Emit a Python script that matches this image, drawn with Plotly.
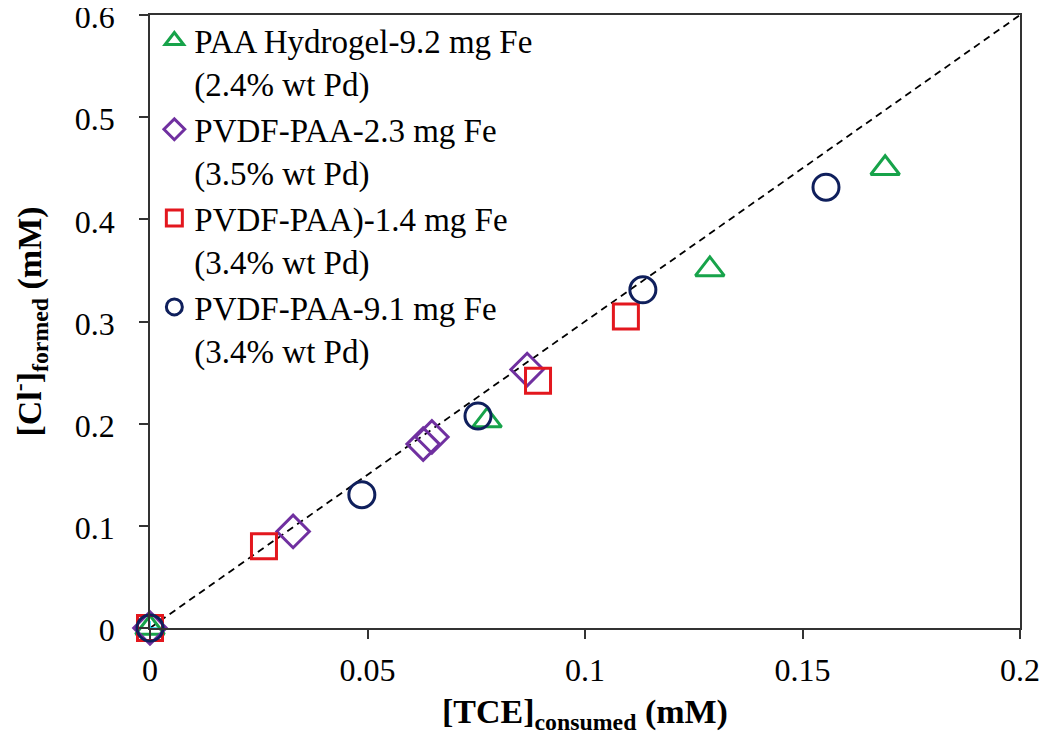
import plotly.graph_objects as go

# PAA Hydrogel-9.2 mg Fe (2.4% wt Pd)
hydrogel_x = [0, 0.0775, 0.1287, 0.169]
hydrogel_y = [0, 0.203, 0.351, 0.450]

# PVDF-PAA-2.3 mg Fe (3.5% wt Pd)
pvdf23_x = [0, 0.0329, 0.0628, 0.0648, 0.0867]
pvdf23_y = [0, 0.0945, 0.180, 0.187, 0.253]

# PVDF-PAA)-1.4 mg Fe (3.4% wt Pd)
pvdf14_x = [0, 0.0262, 0.0892, 0.1094]
pvdf14_y = [0, 0.080, 0.242, 0.305]

# PVDF-PAA-9.1 mg Fe (3.4% wt Pd)
pvdf91_x = [0, 0.0487, 0.0754, 0.1133, 0.1554]
pvdf91_y = [0, 0.1305, 0.2075, 0.331, 0.4315]

# 1:3 stoichiometric line
line_x = [0, 0.2]
line_y = [0, 0.6]

x_ticks = [0, 0.05, 0.1, 0.15, 0.2]
y_ticks = [0, 0.1, 0.2, 0.3, 0.4, 0.5, 0.6]

FONT = 'Times New Roman, Liberation Serif, serif'

series = [
    ('PAA Hydrogel-9.2 mg Fe<br>(2.4% wt Pd)', hydrogel_x, hydrogel_y, 'triangle-up-open', '#17a34a', 25),
    ('PVDF-PAA-2.3 mg Fe<br>(3.5% wt Pd)', pvdf23_x, pvdf23_y, 'diamond-open', '#7030a0', 25),
    ('PVDF-PAA)-1.4 mg Fe<br>(3.4% wt Pd)', pvdf14_x, pvdf14_y, 'square-open', '#e3171e', 25),
    ('PVDF-PAA-9.1 mg Fe<br>(3.4% wt Pd)', pvdf91_x, pvdf91_y, 'circle-open', '#0f1f5c', 26),
]

fig = go.Figure()

fig.add_trace(go.Scatter(x=line_x, y=line_y, mode='lines',
                         line=dict(color='black', width=1.8, dash='7px,5px'),
                         showlegend=False, hoverinfo='skip'))

for name, xs, ys, sym, col, size in series:
    fig.add_trace(go.Scatter(x=xs, y=ys, mode='markers', name=name, cliponaxis=False,
                             marker=dict(symbol=sym, size=size, color=col,
                                         line=dict(width=3, color=col))))

# small cross at the origin
fig.add_trace(go.Scatter(x=[0], y=[0], mode='markers', showlegend=False, cliponaxis=False,
                         marker=dict(symbol='cross-thin-open', size=10,
                                     line=dict(width=1.5, color='black'))))

axis_style = dict(showgrid=False, zeroline=False, showline=True,
                  linecolor='#333333', linewidth=1.5, mirror=True,
                  ticks='outside', ticklen=9, tickwidth=1.5, tickcolor='#333333',
                  automargin=False, ticklabeloverflow='allow',
                  tickfont=dict(family=FONT, size=32, color='black'))

# the page body adds an 8px offset, margins compensate for it
fig.update_layout(
    width=1050, height=747,
    margin=dict(l=142, r=38, t=5, b=127),
    paper_bgcolor='white', plot_bgcolor='white',
    font=dict(family=FONT, size=32, color='black'),
    legend=dict(x=0.005, y=1.004, xanchor='left', yanchor='top',
                font=dict(family=FONT, size=33, color='black'), valign='top',
                bgcolor='rgba(0,0,0,0)', itemsizing='trace'),
    xaxis=dict(range=[0, 0.2], tickvals=x_ticks,
               ticktext=[f'{v:g}' for v in x_ticks], ticklabelstandoff=4,
               **axis_style),
    yaxis=dict(range=[0, 0.6], tickvals=y_ticks,
               ticktext=[f'{v:g}' for v in y_ticks], ticklabelstandoff=18,
               ticklabelshift=2, **axis_style),
    annotations=[
        dict(text='<b>[TCE]<sub>consumed</sub> (mM)</b>', xref='paper', yref='paper',
             x=0.5, y=-0.14, xanchor='center', yanchor='middle', showarrow=False,
             font=dict(family=FONT, size=34, color='black')),
        dict(text='<b>[Cl<sup>-</sup>]<sub>formed</sub> (mM)</b>', xref='paper', yref='paper',
             x=-0.139, y=0.5, xanchor='center', yanchor='middle', showarrow=False,
             textangle=-90, font=dict(family=FONT, size=34, color='black')),
    ],
)

fig.write_html("out.html")
